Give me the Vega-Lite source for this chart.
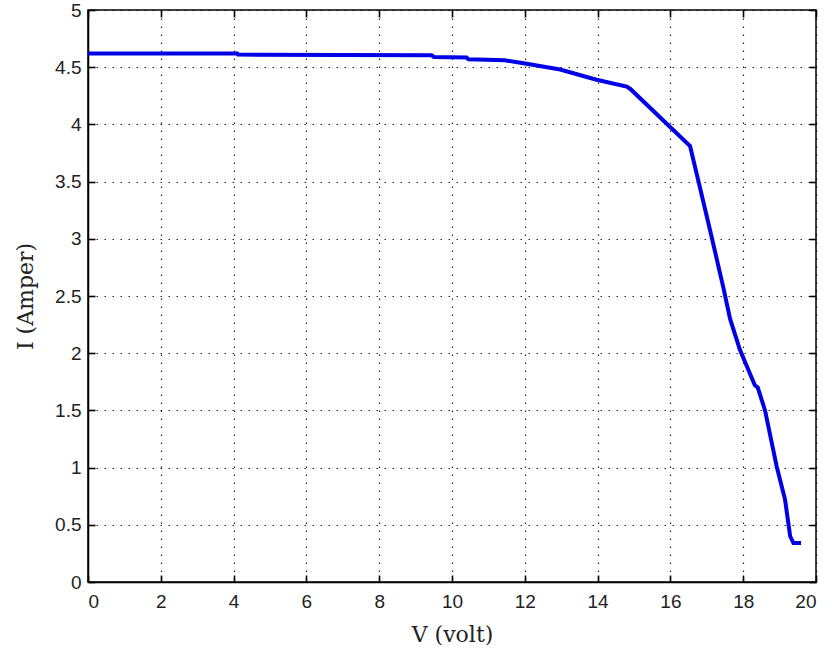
{
  "$schema": "https://vega.github.io/schema/vega-lite/v6.json",
  "width": 728,
  "height": 572,
  "autosize": "none",
  "padding": {"left": 88, "top": 10, "right": 16, "bottom": 77},
  "background": "white",
  "config": {
    "view": {"stroke": "black", "strokeWidth": 1.5},
    "axis": {
      "labelFont": "Liberation Sans",
      "labelFontSize": 19,
      "labelColor": "#222",
      "format": "~g",
      "titleFont": "DejaVu Serif",
      "titleFontSize": 22,
      "titleFontWeight": "normal",
      "titleColor": "#222",
      "tickColor": "black",
      "tickWidth": 1.6,
      "domainColor": "black",
      "domainWidth": 1.5,
      "gridColor": "black",
      "gridOpacity": 0.85,
      "gridDash": [1.5, 6.5],
      "gridWidth": 1.2
    }
  },
  "data": {
    "values": [
      {"V": 0, "I": 4.62},
      {"V": 4.1, "I": 4.62},
      {"V": 4.12, "I": 4.61},
      {"V": 9.44, "I": 4.605},
      {"V": 9.5, "I": 4.59},
      {"V": 10.4, "I": 4.585},
      {"V": 10.45, "I": 4.57},
      {"V": 11.45, "I": 4.56},
      {"V": 12.05, "I": 4.53},
      {"V": 12.97, "I": 4.48},
      {"V": 13.97, "I": 4.39},
      {"V": 14.8, "I": 4.33},
      {"V": 14.9, "I": 4.31},
      {"V": 16.54, "I": 3.81},
      {"V": 16.81, "I": 3.45},
      {"V": 17.13, "I": 3.02},
      {"V": 17.45, "I": 2.58},
      {"V": 17.64, "I": 2.3},
      {"V": 17.91, "I": 2.03},
      {"V": 18.32, "I": 1.72},
      {"V": 18.4, "I": 1.7},
      {"V": 18.6, "I": 1.5},
      {"V": 18.92, "I": 1.01},
      {"V": 19.15, "I": 0.72},
      {"V": 19.29, "I": 0.4},
      {"V": 19.38, "I": 0.34},
      {"V": 19.59, "I": 0.34}
    ]
  },
  "layer": [
    {
      "mark": {"type": "line", "color": "#0000e6", "strokeWidth": 4, "clip": true},
      "encoding": {
        "x": {
          "field": "V", "type": "quantitative",
          "scale": {"domain": [0, 20], "nice": false, "zero": false},
          "axis": {"title": "V (volt)", "values": [0,2,4,6,8,10,12,14,16,18,20], "ticks": false, "labelPadding": 10, "titlePadding": 13, "grid": true}
        },
        "y": {
          "field": "I", "type": "quantitative",
          "scale": {"domain": [0, 5], "nice": false, "zero": false},
          "axis": {"title": "I (Amper)", "values": [0,0.5,1,1.5,2,2.5,3,3.5,4,4.5,5], "ticks": false, "labelPadding": 7, "titlePadding": 17, "grid": true}
        }
      }
    },
    {
      "mark": {"type": "line", "opacity": 0},
      "encoding": {
        "x": {
          "field": "V", "type": "quantitative",
          "scale": {"domain": [0, 20], "nice": false, "zero": false},
          "axis": {"orient": "top", "offset": -572, "title": null, "labels": false, "grid": false, "domain": false, "values": [0,2,4,6,8,10,12,14,16,18,20], "tickSize": 7}
        },
        "y": {
          "field": "I", "type": "quantitative",
          "scale": {"domain": [0, 5], "nice": false, "zero": false},
          "axis": {"orient": "right", "offset": -728, "title": null, "labels": false, "grid": false, "domain": false, "values": [0,0.5,1,1.5,2,2.5,3,3.5,4,4.5,5], "tickSize": 7}
        }
      }
    },
    {
      "mark": {"type": "line", "opacity": 0},
      "encoding": {
        "x": {
          "field": "V", "type": "quantitative",
          "scale": {"domain": [0, 20], "nice": false, "zero": false},
          "axis": {"orient": "bottom", "offset": -572, "title": null, "labels": false, "grid": false, "domain": false, "values": [0,2,4,6,8,10,12,14,16,18,20], "tickSize": 7}
        },
        "y": {
          "field": "I", "type": "quantitative",
          "scale": {"domain": [0, 5], "nice": false, "zero": false},
          "axis": {"orient": "left", "offset": -728, "title": null, "labels": false, "grid": false, "domain": false, "values": [0,0.5,1,1.5,2,2.5,3,3.5,4,4.5,5], "tickSize": 7}
        }
      }
    }
  ],
  "resolve": {"axis": {"x": "independent", "y": "independent"}}
}
